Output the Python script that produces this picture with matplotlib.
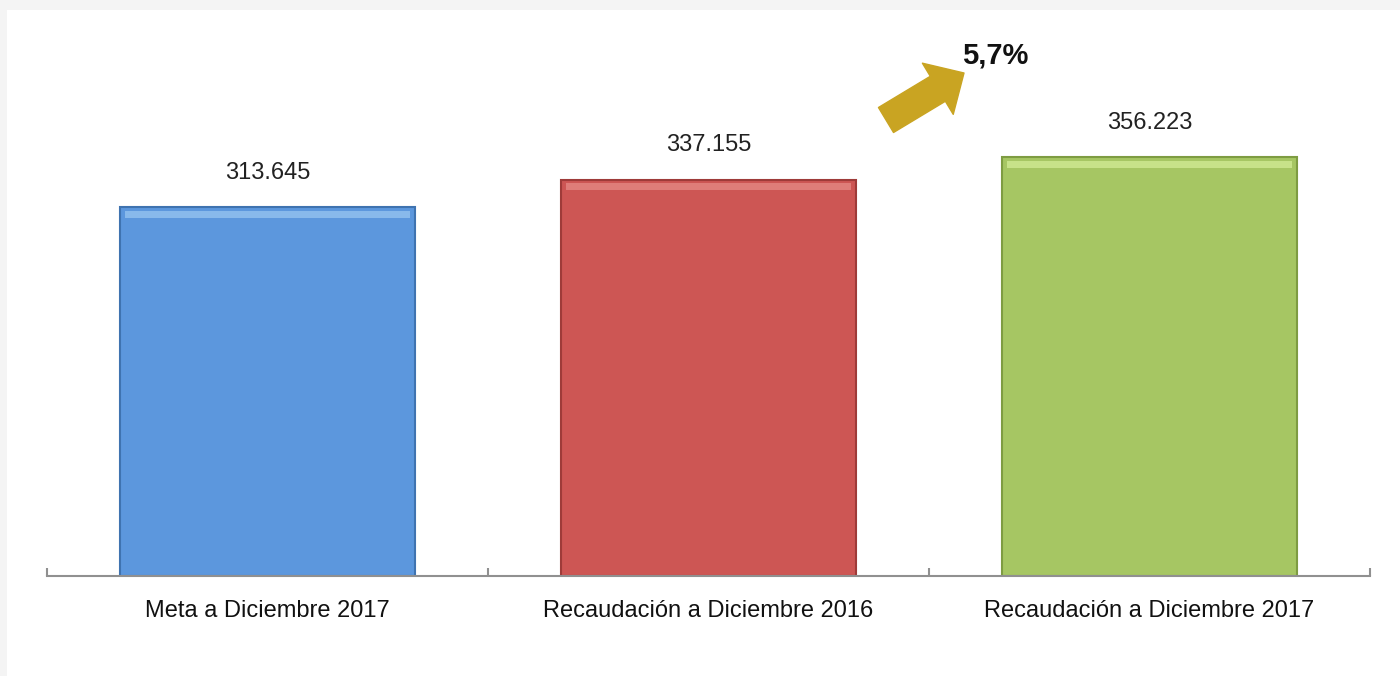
import matplotlib
matplotlib.use("Agg")
import matplotlib.pyplot as plt
import matplotlib.patches as mpatches

# datos
categorias = ['Meta a Diciembre 2017', 'Recaudación a Diciembre 2016', 'Recaudación a Diciembre 2017']
valores = [313.645, 337.155, 356.223]
etiquetas = ['313.645', '337.155', '356.223']
variacion = '5,7%'

colores = ['#5C97DD', '#CD5654', '#A6C663']
bordes = ['#3F73B0', '#9E3B39', '#7E9C42']
brillo = ['#9CC8F2', '#E88E8A', '#D6EE9A']

plt.rcParams['font.family'] = ['Liberation Sans', 'DejaVu Sans']

fig = plt.figure(figsize=(14, 6.76), dpi=100)
fig.patch.set_facecolor('#F4F4F4')
# marco blanco interior
fig.add_artist(mpatches.Rectangle((7 / 1400, 0), 1, 1 - 10 / 676, transform=fig.transFigure,
                                  facecolor='white', edgecolor='none', zorder=0))

ax = fig.add_axes([47 / 1400, 100 / 676, 1323 / 1400, 536 / 676])
ax.set_facecolor('none')

x = range(len(categorias))
ax.bar(x, valores, width=0.67, color=colores, edgecolor=bordes, linewidth=1.5, zorder=2)
# brillo superior (efecto biselado)
for i, v in enumerate(valores):
    ax.bar(i, 6, bottom=v - 9, width=0.645, color=brillo[i], edgecolor='none', alpha=0.7, zorder=3)
    ax.text(i, v + 20, etiquetas[i], ha='center', va='bottom', fontsize=17, color='#222222')

ax.set_xlim(-0.5, 2.5)
ax.set_ylim(0, 456)
ax.set_yticks([])
for s in ['top', 'right', 'left']:
    ax.spines[s].set_visible(False)
ax.spines['bottom'].set_color('#909090')
ax.spines['bottom'].set_linewidth(1.5)
ax.spines['bottom'].set_zorder(4)

ax.set_xticks([-0.5, 0.5, 1.5, 2.5])
ax.set_xticklabels([])
ax.tick_params(axis='x', direction='in', length=6, width=1.5, color='#909090')
for i, c in enumerate(categorias):
    ax.text(i, -20, c, ha='center', va='top', fontsize=17, color='#111111')

# flecha de variación
flecha = mpatches.FancyArrowPatch((886 / 1400, 1 - 120 / 676), (964 / 1400, 1 - 73 / 676),
                                  transform=fig.transFigure,
                                  arrowstyle='simple,head_width=4.3,head_length=2.2,tail_width=2.1',
                                  mutation_scale=10, color='#C9A422', shrinkA=0, shrinkB=0)
fig.add_artist(flecha)
fig.text(995 / 1400, 1 - 56 / 676, variacion, ha='center', va='center', fontsize=21,
         fontweight='bold', color='#111111')

fig.savefig('out.png', dpi=100, facecolor=fig.get_facecolor())
